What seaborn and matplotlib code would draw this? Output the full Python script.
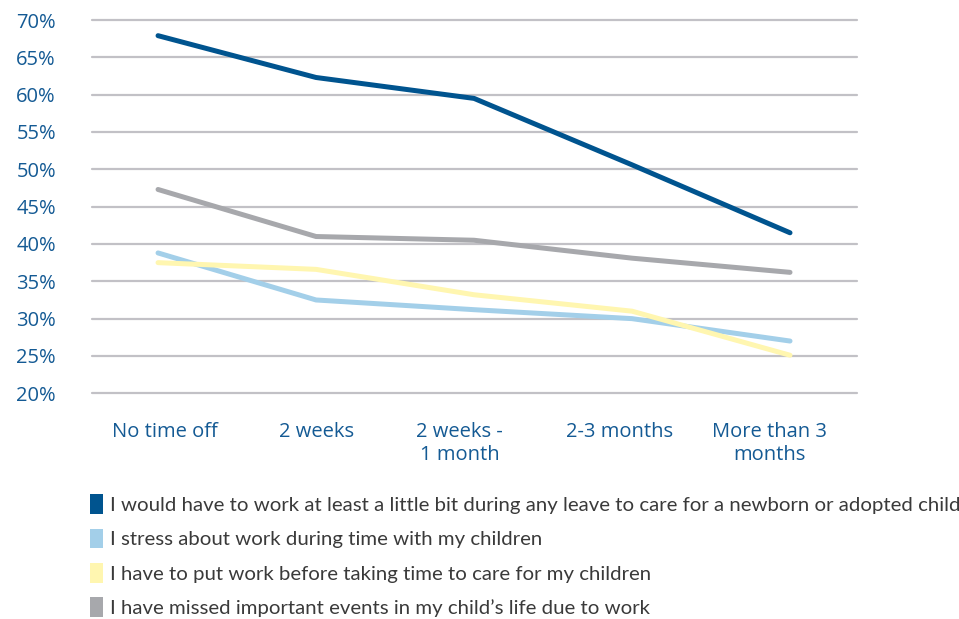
import numpy as np
import pandas as pd
import seaborn as sns
import matplotlib
matplotlib.use("Agg")
import matplotlib.pyplot as plt
from matplotlib.patches import Patch

# data
categories = ["No time off", "2 weeks", "2 weeks -\n1 month", "2-3 months", "More than 3\nmonths"]
work_during_leave = [67.9, 62.3, 59.5, 50.6, 41.5]
stress_about_work = [38.8, 32.5, 31.2, 30.0, 27.0]
work_before_care = [37.5, 36.6, 33.2, 31.0, 25.1]
missed_events = [47.3, 41.0, 40.5, 38.1, 36.2]
series_names = [
    "I would have to work at least a little bit during any leave to care for a newborn or adopted child",
    "I stress about work during time with my children",
    "I have to put work before taking time to care for my children",
    "I have missed important events in my child\u2019s life due to work",
]
yticks = [20, 25, 30, 35, 40, 45, 50, 55, 60, 65, 70]

colors = ["#00548f", "#a3cfe9", "#fff6b0", "#a7a8ac"]
text_color = "#145a94"

rows = []
for name, vals in zip(series_names, [work_during_leave, stress_about_work, work_before_care, missed_events]):
    for i, v in enumerate(vals):
        rows.append({"x": i, "value": v, "series": name})
df = pd.DataFrame(rows)

sns.set_theme()
sns.set_style("white")
plt.rcParams['font.family'] = ['Lato', 'DejaVu Sans']

fig = plt.figure(figsize=(9.59, 6.19), dpi=100)
ax = fig.add_axes([92 / 959, (619 - 393.3) / 619, (857 - 92) / 959, (393.3 - 20) / 619])

for y in yticks:
    ax.axhline(y, color="#c2c1c6", linewidth=1.6, zorder=0, clip_on=False)

# draw back-to-front so dark blue sits on top
order = [series_names[3], series_names[1], series_names[2], series_names[0]]
for name in order:
    sub = df[df["series"] == name]
    sns.lineplot(data=sub, x="x", y="value", color=colors[series_names.index(name)],
                 linewidth=3.6, ax=ax, legend=False, solid_capstyle="round")

ax.set_xlim(-0.418, 4.424)
ax.set_ylim(20, 70)
ax.set_xlabel("")
ax.set_ylabel("")
for s in ax.spines.values():
    s.set_visible(False)

tick_font = ['Open Sans', 'DejaVu Sans']
ax.set_yticks(yticks)
ax.set_yticklabels([f"{t}%" for t in yticks], family=tick_font)
label_pos = [0.044, 1.006, 1.91, 2.92, 3.87]
ax.set_xticks(label_pos)
ax.set_xticklabels(categories, linespacing=1.15, family=tick_font)
ax.tick_params(axis="y", length=0, pad=26, labelsize=14.5, labelcolor=text_color)
ax.tick_params(axis="x", length=0, pad=21, labelsize=14.5, labelcolor=text_color)

handles = [Patch(facecolor=c, edgecolor="none") for c in colors]
fig.legend(handles, series_names, loc="upper left", bbox_to_anchor=(82 / 959, 1 - 486 / 619),
           frameon=False, fontsize=14.7, handlelength=0.65, handleheight=1.1,
           handletextpad=0.3, labelspacing=0.72, labelcolor="#3a3a3a", borderaxespad=0)

fig.savefig("out.png", dpi=100)
